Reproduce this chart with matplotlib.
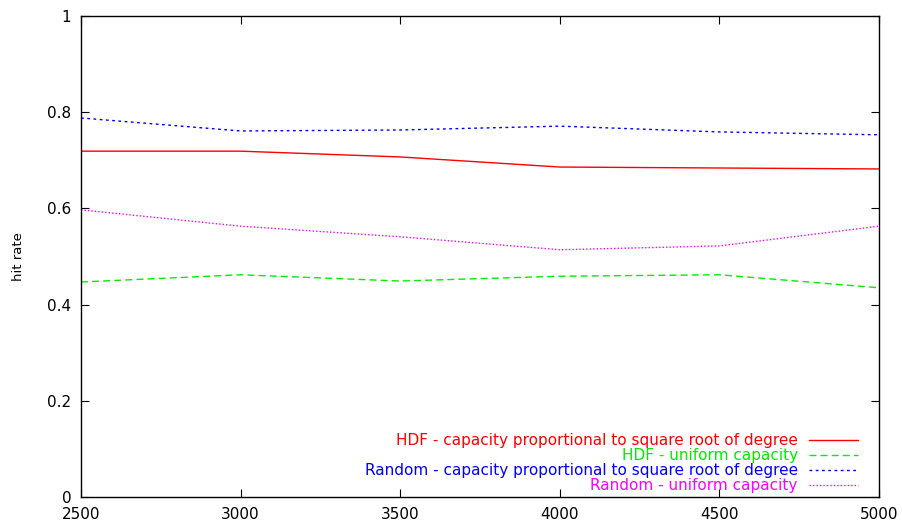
import matplotlib
matplotlib.use("Agg")
import matplotlib.pyplot as plt

plt.rcParams['font.family'] = ['DejaVu Sans']

nodes = [2500, 3000, 3500, 4000, 4500, 5000]
hdf_sqrt = [0.719, 0.719, 0.707, 0.686, 0.684, 0.682]
hdf_uniform = [0.447, 0.462, 0.449, 0.459, 0.462, 0.435]
rnd_sqrt = [0.788, 0.761, 0.763, 0.771, 0.759, 0.753]
rnd_uniform = [0.597, 0.563, 0.541, 0.514, 0.522, 0.563]

labels = ["HDF - capacity proportional to square root of degree",
          "HDF - uniform capacity",
          "Random - capacity proportional to square root of degree",
          "Random - uniform capacity"]

fig = plt.figure(figsize=(9.02, 5.27), dpi=100)
ax = fig.add_axes([81/902, 30/527, 798/902, 481/527])

ax.plot(nodes, hdf_sqrt, color="#ff0000", lw=1, ls="-", label=labels[0])
ax.plot(nodes, hdf_uniform, color="#00ee00", lw=1, ls=(0, (5, 3)), label=labels[1])
ax.plot(nodes, rnd_sqrt, color="#0000ff", lw=1, ls=(0, (2, 2.5)), label=labels[2])
ax.plot(nodes, rnd_uniform, color="#ff00ff", lw=1, ls=(0, (1, 1.5)), label=labels[3])

ax.set_xlim(2500, 5000)
ax.set_ylim(0, 1)
ax.set_xticks([2500, 3000, 3500, 4000, 4500, 5000])
ax.set_yticks([0, 0.2, 0.4, 0.6, 0.8, 1])
ax.set_yticklabels(["0", "0.2", "0.4", "0.6", "0.8", "1"])
ax.tick_params(direction="in", top=True, right=True, length=6, labelsize=11, pad=7)
ax.set_ylabel("hit rate", fontsize=9.5, labelpad=16)
for s in ax.spines.values():
    s.set_linewidth(1)

# legend sits bottom right, text right-aligned before the line sample
leg = ax.legend(loc="lower right", frameon=False, markerfirst=False, labelcolor="linecolor",
                fontsize=11, handlelength=3.2, labelspacing=0.0, handletextpad=0.75,
                borderaxespad=0, borderpad=0, bbox_to_anchor=(0.9737, 0.008))
for t in leg.get_texts():
    t.set_ha("right")

fig.savefig("out.png", dpi=100)
